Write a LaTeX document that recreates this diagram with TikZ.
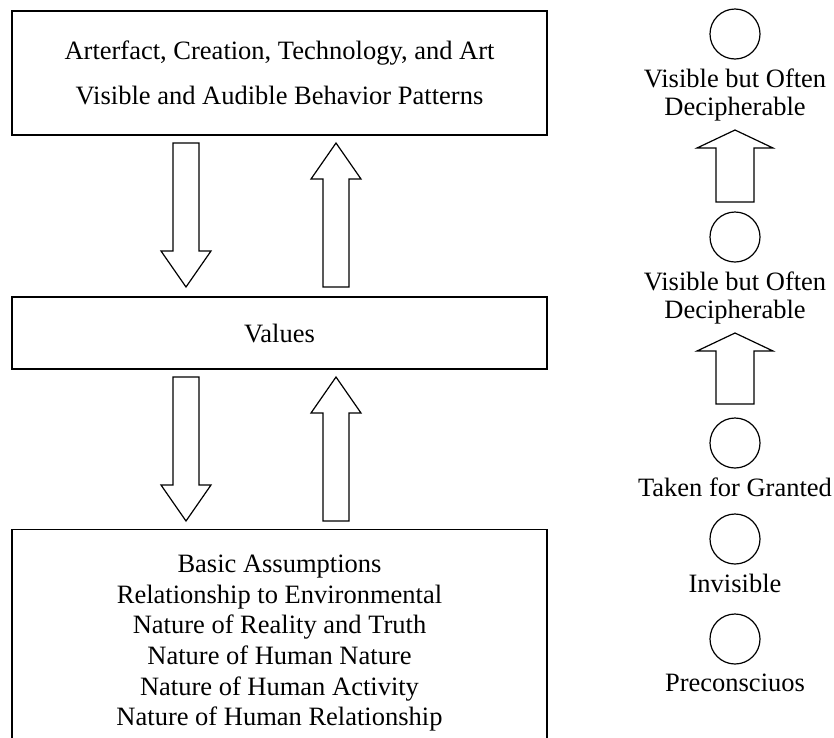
\documentclass[tikz,border=0pt]{standalone}
\usepackage{fontspec}
\setmainfont{Liberation Serif}
\usetikzlibrary{positioning}

\tikzset{
  layerbox/.style={draw, line width=1.4pt, minimum width=535pt, align=center, inner sep=0pt},
  levelring/.style={draw, circle, line width=1.2pt, minimum size=50pt, inner sep=0pt},
  levellabel/.style={align=center, inner sep=0pt},
  blockarrow/.style={draw, line width=1.2pt}
}

\begin{document}
\begin{tikzpicture}[x=1pt, y=-1pt, font=\fontsize{26.5}{30.6}\selectfont]
% Parameters
\def\shaft{13}; \def\headw{25}; \def\headl{36};
\def\rshaft{19}; \def\rheadw{38}; \def\rheadl{18};

\useasboundingbox (0,0) rectangle (834,737);
\clip (0,0) rectangle (834,737);

% Layers
\node[layerbox, minimum height=124pt] (artefact) at (279.5,73)
  {Arterfact, Creation, Technology, and Art\\[14pt]Visible and Audible Behavior Patterns};
\node[layerbox, minimum height=72pt] (values) at (279.5,333) {Values};
\node[layerbox, minimum height=227pt, anchor=north] (basic) at (279.5,529)
  {Basic Assumptions\\Relationship to Environmental\\Nature of Reality and Truth\\Nature of Human Nature\\Nature of Human Activity\\Nature of Human Relationship};

% Arrows between the layers
\draw[blockarrow] (186-\shaft,143) -- (186+\shaft,143) -- (186+\shaft,287-\headl) -- (186+\headw,287-\headl)
  -- (186,287) -- (186-\headw,287-\headl) -- (186-\shaft,287-\headl) -- cycle;
\draw[blockarrow] (336-\shaft,287) -- (336+\shaft,287) -- (336+\shaft,143+\headl) -- (336+\headw,143+\headl)
  -- (336,143) -- (336-\headw,143+\headl) -- (336-\shaft,143+\headl) -- cycle;
\draw[blockarrow] (186-\shaft,377) -- (186+\shaft,377) -- (186+\shaft,521-\headl) -- (186+\headw,521-\headl)
  -- (186,521) -- (186-\headw,521-\headl) -- (186-\shaft,521-\headl) -- cycle;
\draw[blockarrow] (336-\shaft,521) -- (336+\shaft,521) -- (336+\shaft,377+\headl) -- (336+\headw,377+\headl)
  -- (336,377) -- (336-\headw,377+\headl) -- (336-\shaft,377+\headl) -- cycle;

% Levels
\node[levelring] (ring1) at (735,34) {};
\node[levellabel, below=9pt of ring1, font=\fontsize{26.5}{28}\selectfont] (label1) {Visible but Often\\Decipherable};
\node[levelring] (ring2) at (735,237) {};
\node[levellabel, below=9pt of ring2, font=\fontsize{26.5}{28}\selectfont] (label2) {Visible but Often\\Decipherable};
\node[levelring] (ring3) at (735,443) {};
\node[levellabel, below=9pt of ring3] (label3) {Taken for Granted};
\node[levelring] (ring4) at (735,539) {};
\node[levellabel, below=9pt of ring4] (label4) {Invisible};
\node[levelring] (ring5) at (735,639) {};
\node[levellabel, below=9pt of ring5] (label5) {Preconsciuos};

% Arrows between the levels
\draw[blockarrow] (735-\rshaft,202) -- (735+\rshaft,202) -- (735+\rshaft,130+\rheadl) -- (735+\rheadw,130+\rheadl)
  -- (735,130) -- (735-\rheadw,130+\rheadl) -- (735-\rshaft,130+\rheadl) -- cycle;
\draw[blockarrow] (735-\rshaft,404) -- (735+\rshaft,404) -- (735+\rshaft,333+\rheadl) -- (735+\rheadw,333+\rheadl)
  -- (735,333) -- (735-\rheadw,333+\rheadl) -- (735-\rshaft,333+\rheadl) -- cycle;
\end{tikzpicture}
\end{document}
